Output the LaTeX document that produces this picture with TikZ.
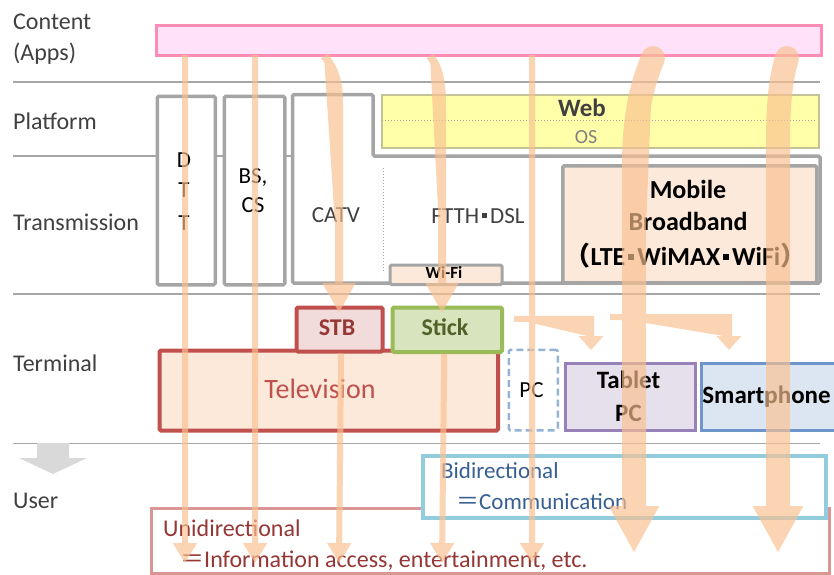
\documentclass[tikz,border=0pt]{standalone}
\usepackage{fontspec}
\setmainfont{Carlito}
\newfontfamily\cjk{Noto Sans CJK JP}
\usetikzlibrary{arrows.meta}
\definecolor{labelgray}{RGB}{64,64,64}
\definecolor{sepgray}{RGB}{166,166,166}
\definecolor{boxgray}{RGB}{165,165,165}
\definecolor{pinkfill}{RGB}{255,225,250}
\definecolor{pinkdraw}{RGB}{255,140,180}
\definecolor{webyellow}{RGB}{255,255,170}
\definecolor{webdraw}{RGB}{195,195,150}
\definecolor{osgray}{RGB}{128,128,128}
\definecolor{peach}{RGB}{253,233,217}
\definecolor{stbfill}{RGB}{242,220,219}
\definecolor{tvred}{RGB}{192,80,77}
\definecolor{darkred}{RGB}{149,55,53}
\definecolor{stickfill}{RGB}{215,228,189}
\definecolor{stickgreen}{RGB}{155,187,89}
\definecolor{darkgreen}{RGB}{79,98,40}
\definecolor{pcblue}{RGB}{149,179,215}
\definecolor{tabletfill}{RGB}{229,224,236}
\definecolor{tabletdraw}{RGB}{150,130,185}
\definecolor{smartfill}{RGB}{220,230,242}
\definecolor{smartdraw}{RGB}{110,150,205}
\definecolor{bidirdraw}{RGB}{147,205,221}
\definecolor{bidirtext}{RGB}{55,96,146}
\definecolor{unidirdraw}{RGB}{218,150,148}
\definecolor{arrowc}{RGB}{250,192,144}
\definecolor{blockgray}{RGB}{217,217,217}
\newcommand{\sqdot}[2]{\kern3pt\raisebox{#1}{\rule{#2}{#2}}\kern3pt}
\begin{document}
\begin{tikzpicture}[x=1pt,y=-1pt,
  lbl/.style={font=\fontsize{24}{28}\selectfont, text=labelgray, anchor=base west, inner sep=0},
  txt/.style={font=\fontsize{23}{27}\selectfont, inner sep=0, anchor=base},
  btxt/.style={font=\fontsize{24}{28}\selectfont\bfseries, inner sep=0, anchor=base},
  sepline/.style={draw=sepgray, line width=1.3pt},
  boxbase/.style={inner sep=0, anchor=north west},
  graybox/.style={boxbase, draw=boxgray, line width=3.5pt, fill=white, rounded corners=1.5pt},
  thinarr/.style={draw=arrowc, fill=arrowc, line width=6pt, -{Triangle[width=23pt,length=20pt]}},
  midarr/.style={draw=arrowc, fill=arrowc, line width=8pt, -{Triangle[width=31pt,length=30pt]}},
  elbarr/.style={draw=arrowc, fill=arrowc, line width=6pt, -{Triangle[width=24pt,length=14pt]}},
  thickarr/.style={draw=arrowc, fill=arrowc, line width=24pt, line cap=round, -{Triangle[width=47pt,length=47pt]}}
]
\clip (0,0) rectangle (834,574);
\fill[white] (0,0) rectangle (834,574);

% separators
\draw[sepline] (13,82) -- (820,82);
\draw[sepline] (13,156) -- (820,156);
\draw[sepline] (13,294) -- (820,294);
\draw[sepline] (13,443.5) -- (820,443.5);

% layer labels
\node[lbl] (lcontent) at (13,29) {Content};
\node[lbl] (lapps) at (13,60) {(Apps)};
\node[lbl] (lplatform) at (13,129) {Platform};
\node[lbl] (ltrans) at (13,230) {Transmission};
\node[lbl] (lterm) at (13,371) {Terminal};
\node[lbl] (luser) at (13,508) {User};

% content bar
\node[boxbase, draw=pinkdraw, fill=pinkfill, line width=3pt, minimum width=665pt, minimum height=30pt] (content) at (155,24) {};

% transmission boxes
\node[graybox, minimum width=58pt, minimum height=188.5pt] (dtt) at (155.5,94.5) {};
\node[graybox, minimum width=60.5pt, minimum height=188.5pt] (bs) at (222.5,94.5) {};
\draw[boxgray, line width=3.5pt, fill=white, rounded corners=1.5pt] (292.5,94.5) -- (373,94.5) -- (373,156) -- (820,156) -- (820,283) -- (292.5,283) -- cycle;
\draw[sepgray, dotted, line width=1pt] (383,168) -- (383,273);
\node[boxbase, draw=webdraw, fill=webyellow, line width=2pt, minimum width=437pt, minimum height=53pt] (web) at (381,93.5) {};
\draw[sepgray, dotted, line width=1pt] (382,120) -- (817,120);
\node[graybox, fill=peach, minimum width=254pt, minimum height=117pt] (mobile) at (561,164) {};
\node[graybox, fill=peach, line width=3pt, minimum width=112pt, minimum height=19.5pt] (wifi) at (388.5,263.5) {};

% texts in transmission/platform
\node[txt] (tdtt) at (184,167) {D};
\node[txt] (tdtt2) at (184,197) {T};
\node[txt] (tdtt3) at (184,230) {T};
\node[txt] (tbs) at (253,183) {BS,};
\node[txt] (tcs) at (253,212) {CS};
\node[txt, text=labelgray] (tcatv) at (336,222) {CATV};
\node[txt, text=labelgray] (tftth) at (478,223) {FTTH\sqdot{5pt}{5pt}DSL};
\node[btxt, font=\fontsize{25}{28}\selectfont\bfseries, text=labelgray] (tweb) at (582,116) {Web};
\node[txt, font=\fontsize{20}{24}\selectfont, text=osgray] (tos) at (586,143) {OS};
\node[btxt, font=\fontsize{26}{30}\selectfont\bfseries] (tmob1) at (688,198) {Mobile};
\node[btxt, font=\fontsize{26}{30}\selectfont\bfseries] (tmob2) at (688,230) {Broadband};
\node[btxt, font=\fontsize{26}{30}\selectfont\bfseries] (tmob3) at (685.5,265) {{\cjk（}LTE\sqdot{5pt}{6pt}WiMAX\sqdot{5pt}{6pt}WiFi{\cjk）}};
\node[btxt, font=\fontsize{17}{20}\selectfont\bfseries] (twifi) at (444,278) {Wi-Fi};

% terminal boxes
\node[boxbase, draw=tvred, fill=peach, line width=4pt, rounded corners=1.5pt, minimum width=338.5pt, minimum height=80pt] (tv) at (157.5,348.5) {};
\node[boxbase, draw=tvred, fill=stbfill, line width=4pt, rounded corners=1.5pt, minimum width=86pt, minimum height=44pt] (stb) at (294.5,305.5) {};
\node[boxbase, draw=stickgreen, fill=stickfill, line width=4pt, rounded corners=1.5pt, minimum width=109.5pt, minimum height=44.5pt] (stick) at (390.5,305.5) {};
\node[boxbase, draw=pcblue, dashed, dash pattern=on 7pt off 4pt, line width=2.5pt, rounded corners=1.5pt, minimum width=49pt, minimum height=80.5pt] (pc) at (507.5,348.5) {};
\node[boxbase, draw=tabletdraw, fill=tabletfill, line width=3pt, minimum width=130.5pt, minimum height=67.5pt] (tablet) at (563.5,361.5) {};
\node[boxbase, draw=smartdraw, fill=smartfill, line width=3pt, minimum width=150pt, minimum height=67.5pt] (smart) at (699.5,361.5) {};

\node[txt, font=\fontsize{28}{32}\selectfont, text=tvred] (ttv) at (320,398) {Television};
\node[btxt, text=darkred] (tstb) at (337,335) {STB};
\node[btxt, text=darkgreen] (tstick) at (445,335) {Stick};
\node[txt] (tpc) at (531.5,397) {PC};
\node[btxt, font=\fontsize{25}{28}\selectfont\bfseries] (ttab1) at (628.5,388) {Tablet};
\node[btxt, font=\fontsize{25}{28}\selectfont\bfseries] (ttab2) at (628.5,421) {PC};
\node[btxt, font=\fontsize{25}{28}\selectfont\bfseries] (tsmart) at (766.5,403) {Smartphone};

% user row
\fill[blockgray] (37,443) -- (69,443) -- (69,458) -- (87,458) -- (53,474) -- (19,458) -- (37,458) -- cycle;
\node[boxbase, draw=unidirdraw, fill=white, line width=3pt, minimum width=678.5pt, minimum height=65pt] (unidir) at (149.5,507) {};
\node[boxbase, draw=bidirdraw, fill=white, line width=4pt, minimum width=402.5pt, minimum height=62.5pt] (bidir) at (421,453.5) {};
\node[txt, anchor=base west, text=bidirtext] (tbidir1) at (441,478) {Bidirectional};
\node[txt, anchor=base west, text=bidirtext] (tbidir2) at (456,509) {{\cjk ＝}Communication};
\node[txt, anchor=base west, text=darkred, font=\fontsize{24}{28}\selectfont] (tuni1) at (163,536) {Unidirectional};
\node[txt, anchor=base west, text=darkred, font=\fontsize{24}{28}\selectfont] (tuni2) at (180,567) {{\cjk ＝}Information access, entertainment, etc.};

% arrow coordinates
\coordinate (s1) at (185,55);  \coordinate (e1) at (185,563);
\coordinate (s2) at (255,55);  \coordinate (e2) at (255,563);
\coordinate (s3) at (324,56);  \coordinate (m3) at (339,313);
\coordinate (e3) at (339,563);
\coordinate (s4) at (430,56);  \coordinate (m4) at (442,313);
\coordinate (e4) at (442,563);
\coordinate (s5) at (532,55);  \coordinate (e5) at (532,563);
\coordinate (s6) at (653,58);  \coordinate (e6) at (634,553);
\coordinate (s7) at (787,58);  \coordinate (e7) at (778,553);
\coordinate (k1) at (591,350);
\coordinate (k2) at (729,350);
\coordinate (k2s) at (610,317);

\begin{scope}[transparency group, opacity=0.67]
\draw[thinarr] (s1) -- (e1);
\draw[thinarr] (s2) -- (e2);
\draw[midarr] (s3) .. controls (335,68) and (339,82) .. (339,105) -- (m3);
\draw[thinarr] ([xshift=1.5pt]stb.south) -- (e3);
\draw[midarr] (s4) .. controls (438,66) and (442,80) .. (442,105) -- (m4);
\draw[thinarr] ([xshift=-3pt]stick.south) -- (e4);
\draw[thinarr] (s5) -- (e5);
\draw[elbarr] ([xshift=10pt,yshift=11pt]stick.east) -| (k1);
\draw[elbarr] (k2s) -| (k2);
\draw[thickarr] (s6) .. controls (644,80) and (634,110) .. (634,165) -- (e6);
\draw[thickarr] (s7) .. controls (782,75) and (778,95) .. (778,145) -- (e7);
\end{scope}
\end{tikzpicture}
\end{document}
